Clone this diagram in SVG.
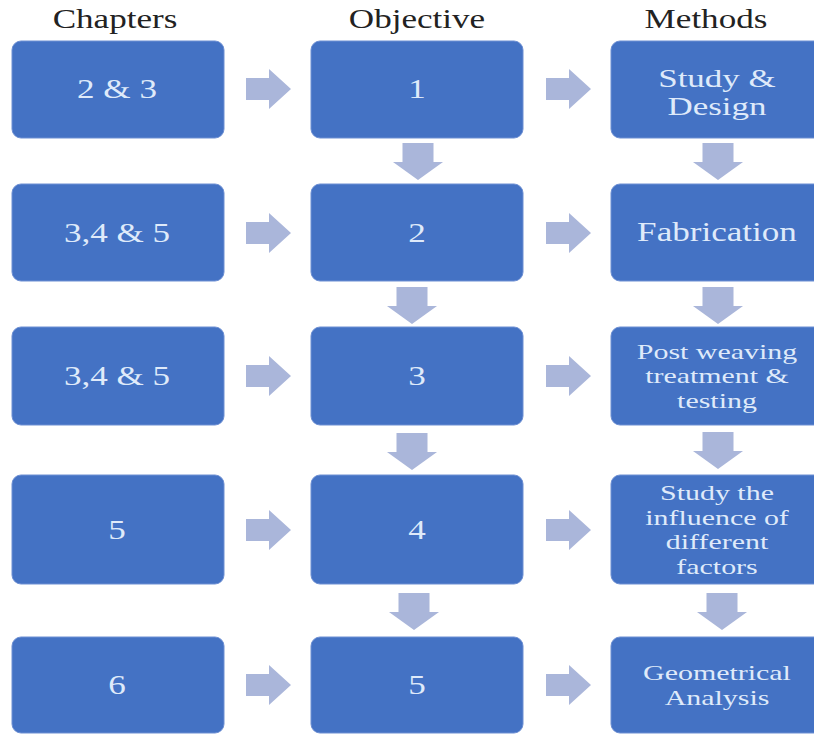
<svg xmlns="http://www.w3.org/2000/svg" xmlns:xlink="http://www.w3.org/1999/xlink" width="814" height="734" viewBox="0 0 814 734">
<style>
.box{fill:#4472C4;stroke:#6d8fd3;stroke-width:1}
.arr{fill:#aab6da}
.hdr{font-family:"Liberation Serif","Times New Roman",serif;font-size:27px;fill:#222;text-anchor:middle}
.lbl{font-family:"Liberation Serif","Times New Roman",serif;font-size:27px;fill:#dfeafa;text-anchor:middle}
.md{font-size:25px}
.sm{font-size:22px}
</style>
<defs>
<path id="harrow" class="arr" d="M0,-11 H23 V-20 L45,0 L23,20 V11 H0 Z"/>
<path id="varrow" class="arr" d="M-15.5,0 H15.5 V19 H25 L0,37 L-25,19 H-15.5 Z"/>
</defs>
<rect width="814" height="734" fill="#ffffff"/>
<g id="headers">
<text class="hdr" transform="translate(115,0) scale(1.3,1)" x="0" y="28">Chapters</text>
<text class="hdr" transform="translate(417,0) scale(1.3,1)" x="0" y="28">Objective</text>
<text class="hdr" transform="translate(706,0) scale(1.3,1)" x="0" y="28">Methods</text>
</g>
<g id="connectors">
<use xlink:href="#harrow" x="246" y="89"/>
<use xlink:href="#harrow" x="246" y="233"/>
<use xlink:href="#harrow" x="246" y="376"/>
<use xlink:href="#harrow" x="246" y="530"/>
<use xlink:href="#harrow" x="246" y="685"/>
<use xlink:href="#harrow" x="546" y="89"/>
<use xlink:href="#harrow" x="546" y="233"/>
<use xlink:href="#harrow" x="546" y="376"/>
<use xlink:href="#harrow" x="546" y="530"/>
<use xlink:href="#harrow" x="546" y="685"/>
<use xlink:href="#varrow" x="418" y="143"/>
<use xlink:href="#varrow" x="412" y="287"/>
<use xlink:href="#varrow" x="412" y="433"/>
<use xlink:href="#varrow" x="414" y="593"/>
<use xlink:href="#varrow" x="718" y="143"/>
<use xlink:href="#varrow" x="718" y="287"/>
<use xlink:href="#varrow" x="718" y="432"/>
<use xlink:href="#varrow" x="722" y="593"/>
</g>
<g id="ch1"><rect class="box" x="12" y="41" width="212" height="97" rx="9"/><text class="lbl" transform="translate(117,0) scale(1.3,1)" x="0" y="98">2 &amp; 3</text></g>
<g id="ch2"><rect class="box" x="12" y="184" width="212" height="97" rx="9"/><text class="lbl" transform="translate(117,0) scale(1.3,1)" x="0" y="242">3,4 &amp; 5</text></g>
<g id="ch3"><rect class="box" x="12" y="327" width="212" height="98" rx="9"/><text class="lbl" transform="translate(117,0) scale(1.3,1)" x="0" y="385">3,4 &amp; 5</text></g>
<g id="ch4"><rect class="box" x="12" y="475" width="212" height="109" rx="9"/><text class="lbl" transform="translate(117,0) scale(1.3,1)" x="0" y="539">5</text></g>
<g id="ch5"><rect class="box" x="12" y="637" width="212" height="96" rx="9"/><text class="lbl" transform="translate(117,0) scale(1.3,1)" x="0" y="694">6</text></g>
<g id="ob1"><rect class="box" x="311" y="41" width="212" height="97" rx="9"/><text class="lbl" transform="translate(417,0) scale(1.3,1)" x="0" y="98">1</text></g>
<g id="ob2"><rect class="box" x="311" y="184" width="212" height="97" rx="9"/><text class="lbl" transform="translate(417,0) scale(1.3,1)" x="0" y="242">2</text></g>
<g id="ob3"><rect class="box" x="311" y="327" width="212" height="98" rx="9"/><text class="lbl" transform="translate(417,0) scale(1.3,1)" x="0" y="385">3</text></g>
<g id="ob4"><rect class="box" x="311" y="475" width="212" height="109" rx="9"/><text class="lbl" transform="translate(417,0) scale(1.3,1)" x="0" y="539">4</text></g>
<g id="ob5"><rect class="box" x="311" y="637" width="212" height="96" rx="9"/><text class="lbl" transform="translate(417,0) scale(1.3,1)" x="0" y="694">5</text></g>
<g id="me1"><rect class="box" x="611" y="41" width="212" height="97" rx="9"/><text class="lbl md" transform="translate(717,0) scale(1.4,1)" x="0" y="87">Study &amp;</text><text class="lbl md" transform="translate(717,0) scale(1.4,1)" x="0" y="115">Design</text></g>
<g id="me2"><rect class="box" x="611" y="184" width="212" height="97" rx="9"/><text class="lbl" transform="translate(717,0) scale(1.3,1)" x="0" y="241">Fabrication</text></g>
<g id="me3"><rect class="box" x="611" y="327" width="212" height="98" rx="9"/><text class="lbl sm" transform="translate(717,0) scale(1.36,1)" x="0" y="359">Post weaving</text><text class="lbl sm" transform="translate(717,0) scale(1.36,1)" x="0" y="383">treatment &amp;</text><text class="lbl sm" transform="translate(717,0) scale(1.36,1)" x="0" y="408">testing</text></g>
<g id="me4"><rect class="box" x="611" y="475" width="212" height="109" rx="9"/><text class="lbl sm" transform="translate(717,0) scale(1.36,1)" x="0" y="500">Study the</text><text class="lbl sm" transform="translate(717,0) scale(1.36,1)" x="0" y="525">influence of</text><text class="lbl sm" transform="translate(717,0) scale(1.36,1)" x="0" y="549">different</text><text class="lbl sm" transform="translate(717,0) scale(1.36,1)" x="0" y="574">factors</text></g>
<g id="me5"><rect class="box" x="611" y="637" width="212" height="96" rx="9"/><text class="lbl sm" transform="translate(717,0) scale(1.36,1)" x="0" y="680">Geometrical</text><text class="lbl sm" transform="translate(717,0) scale(1.36,1)" x="0" y="705">Analysis</text></g>
</svg>
